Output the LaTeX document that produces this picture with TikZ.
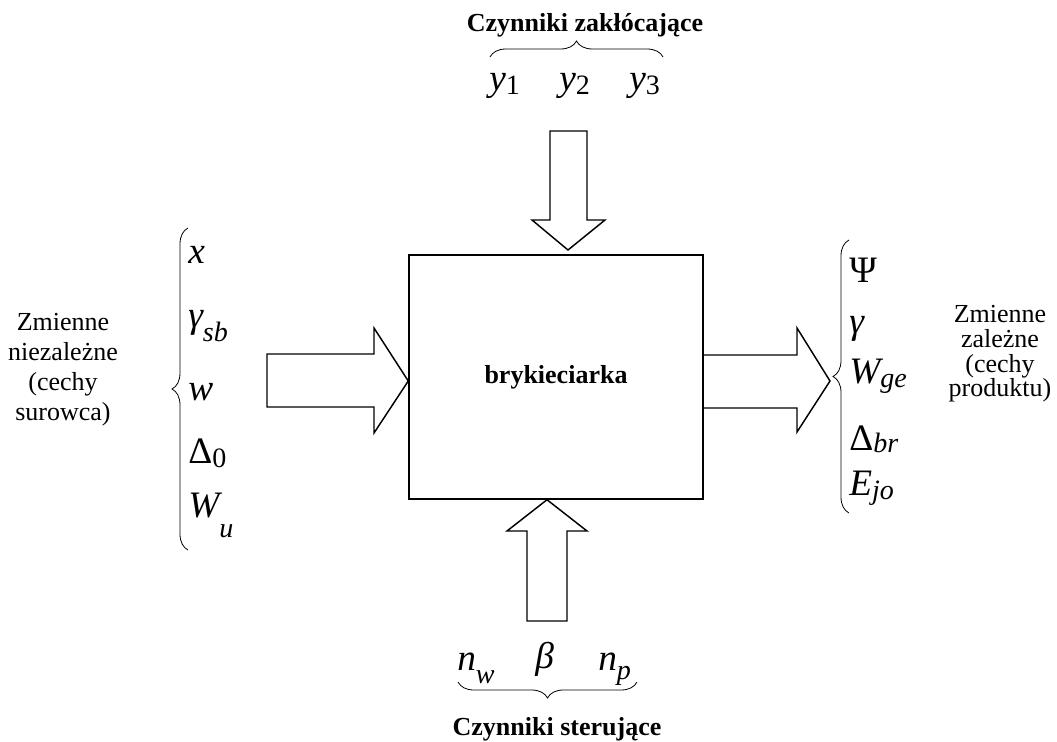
\documentclass[tikz,border=0pt]{standalone}
\usepackage{fontspec}
\setmainfont{Liberation Serif}
\usetikzlibrary{decorations.pathreplacing}

% lowered index, optional depth
\newcommand{\ind}[2][4pt]{\raisebox{-#1}{\fontsize{21}{21}\selectfont #2}}

\begin{document}
\begin{tikzpicture}[x=0.75pt, y=-0.75pt,
  machine/.style={draw, line width=1.1pt, minimum width=220.5pt, minimum height=183pt,
                  font=\fontsize{19.5}{23}\selectfont\bfseries},
  blockarr/.style={draw, line width=1.1pt, line join=miter},
  brc/.style={decorate, decoration={brace, amplitude=12pt}, line width=0.6pt},
  title/.style={font=\fontsize{19.5}{23}\selectfont\bfseries, anchor=base, inner sep=0pt},
  side/.style={align=center, inner sep=0pt},
  var/.style={font=\fontsize{28}{28}\selectfont\itshape, anchor=base west, inner sep=0pt},
]
  \useasboundingbox (0,0) rectangle (1057,742);

  \node[machine] (box) at (556,377) {brykieciarka};

  % block arrows
  \draw[blockarr] (267,354) -- (374,354) -- (374,328) -- (box.west |- 0,381)
    -- (374,433) -- (374,407) -- (267,407) -- cycle;
  \draw[blockarr] (box.east |- 0,355) -- (797,355) -- (797,328) -- (830,381)
    -- (797,432) -- (797,408) -- (box.east |- 0,408);
  \draw[blockarr] (550,131) -- (587,131) -- (587,220) -- (605,220) -- (568,250)
    -- (532,220) -- (550,220) -- cycle;
  \draw[blockarr] (527,621) -- (567,621) -- (567,531) -- (587,531) -- (box.south -| 547,0)
    -- (507,531) -- (527,531) -- cycle;

  % disturbances
  \node[title] (dist) at (585,32) {Czynniki zakłócające};
  \draw[brc] (490,57) -- (663,57);
  \node[var] (y1) at (489,90) {y\ind[3pt]{\upshape 1}};
  \node[var] (y2) at (559,90) {y\ind[3pt]{\upshape 2}};
  \node[var] (y3) at (629,90) {y\ind[3pt]{\upshape 3}};

  % control
  \node[var] (nw) at (457,670) {n\ind[10pt]{w}};
  \node[var] (beta) at (535,668) {β};
  \node[var] (np) at (598,670) {n\ind[7pt]{p}};
  \draw[brc] (637,682) -- (458,682);
  \node[title] (ctrl) at (557,735) {Czynniki sterujące};

  % inputs
  \node[side, font=\fontsize{19.5}{22.5}\selectfont] (inlbl) at (63,370)
    {Zmienne\\niezależne\\(cechy\\surowca)};
  \draw[brc] (188,550) -- (188,228);
  \node[var] (vx) at (188,263) {x};
  \node[var] (vgsb) at (188,327) {γ\ind[11pt]{sb}};
  \node[var] (vw) at (188,400) {w};
  \node[var] (vd0) at (188,463) {{\upshape Δ}\ind[3pt]{\upshape 0}};
  \node[var] (vwu) at (188,517) {W\ind[15pt]{u}};

  % outputs
  \draw[brc] (849,513) -- (849,240);
  \node[var] (vpsi) at (849,282) {\upshape Ψ};
  \node[var] (vg) at (849,333) {γ};
  \node[var] (vwge) at (849,383) {W\ind[3pt]{ge}};
  \node[var] (vdbr) at (849,450) {{\upshape Δ}\ind[2pt]{br}};
  \node[var] (vejo) at (849,495) {E\ind[3pt]{jo}};
  \node[side, font=\fontsize{19.5}{18.5}\selectfont] (outlbl) at (1000,354)
    {Zmienne\\zależne\\(cechy\\produktu)};
\end{tikzpicture}
\end{document}
